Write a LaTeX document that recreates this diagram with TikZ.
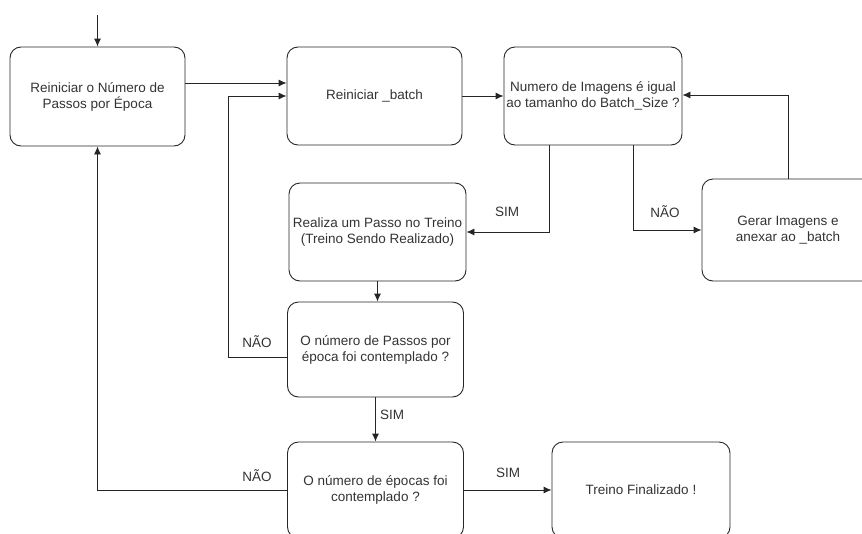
\documentclass[tikz,border=0pt]{standalone}
\usepackage{fontspec}
\setmainfont{Liberation Sans}
\usetikzlibrary{arrows.meta}
\begin{document}
\begin{tikzpicture}[x=1pt,y=1pt,
  box/.style={draw=black!85, line width=0.9pt, rounded corners=11pt, align=center,
    font=\fontsize{13.5}{16}\selectfont, text=black!80, inner sep=0pt},
  arr/.style={draw=black!85, line width=0.9pt, -{Latex[length=8pt,width=7pt]}},
  lbl/.style={font=\fontsize{13.5}{16}\selectfont, text=black!80, inner sep=0pt}]
\useasboundingbox (0,0) rectangle (862,-533);
\begin{scope}
\clip (0,0) rectangle (862,-533);
% process boxes
\node[box, minimum width=175pt, minimum height=99pt] (b1) at (97.5,-96.5)
  {Reiniciar o Número de\\Passos por Época};
\node[box, minimum width=175pt, minimum height=98pt] (b2) at (374.5,-96)
  {Reiniciar \_batch};
\node[box, minimum width=178pt, minimum height=98pt] (b3) at (593,-96)
  {Numero de Imagens é igual\\ao tamanho do Batch\_Size ?};
\node[box, minimum width=177pt, minimum height=98pt] (b4) at (377.5,-232)
  {Realiza um Passo no Treino\\(Treino Sendo Realizado)};
\node[box, minimum width=172pt, minimum height=102pt] (b5) at (788,-230)
  {Gerar Imagens e\\anexar ao \_batch};
\node[box, minimum width=176pt, minimum height=95pt] (b6) at (375.5,-349.5)
  {O número de Passos por\\época foi contemplado ?};
\node[box, minimum width=176pt, minimum height=96pt] (b7) at (375.5,-490)
  {O número de épocas foi\\contemplado ?};
\node[box, minimum width=178pt, minimum height=96pt] (b8) at (641,-490)
  {Treino Finalizado !};
\end{scope}
% entry point
\coordinate (start) at (97.5,-15);
\draw[arr] (start) -- (b1.north);
% main flow
\draw[arr] ([yshift=13.5pt]b1.east) -- ([yshift=13pt]b2.west);
\draw[arr] (b2.east) -- (b3.west);
\draw[arr] ([xshift=-44pt]b3.south) |- (b4.east);
\draw[arr] ([xshift=40pt]b3.south) |- (b5.west);
\draw[arr] (b5.north) |- ([yshift=1pt]b3.east);
\draw[arr] (b4.south) -- (b4.south |- b6.north);
\coordinate (loopA) at (228,-357);
\draw[arr] ([yshift=-7.5pt]b6.west) -- (loopA) |- (b2.west);
\draw[arr] (b6.south) -- (b7.north);
\draw[arr] (b7.west) -| (b1.south);
\draw[arr] (b7.east) -- (b8.west);
% branch labels
\node[lbl] (l1) at (507,-212) {SIM};
\node[lbl] (l2) at (665,-212) {NÃO};
\node[lbl] (l3) at (257,-342) {NÃO};
\node[lbl] (l4) at (392,-415) {SIM};
\node[lbl] (l5) at (257,-476) {NÃO};
\node[lbl] (l6) at (508,-473) {SIM};
\end{tikzpicture}
\end{document}
